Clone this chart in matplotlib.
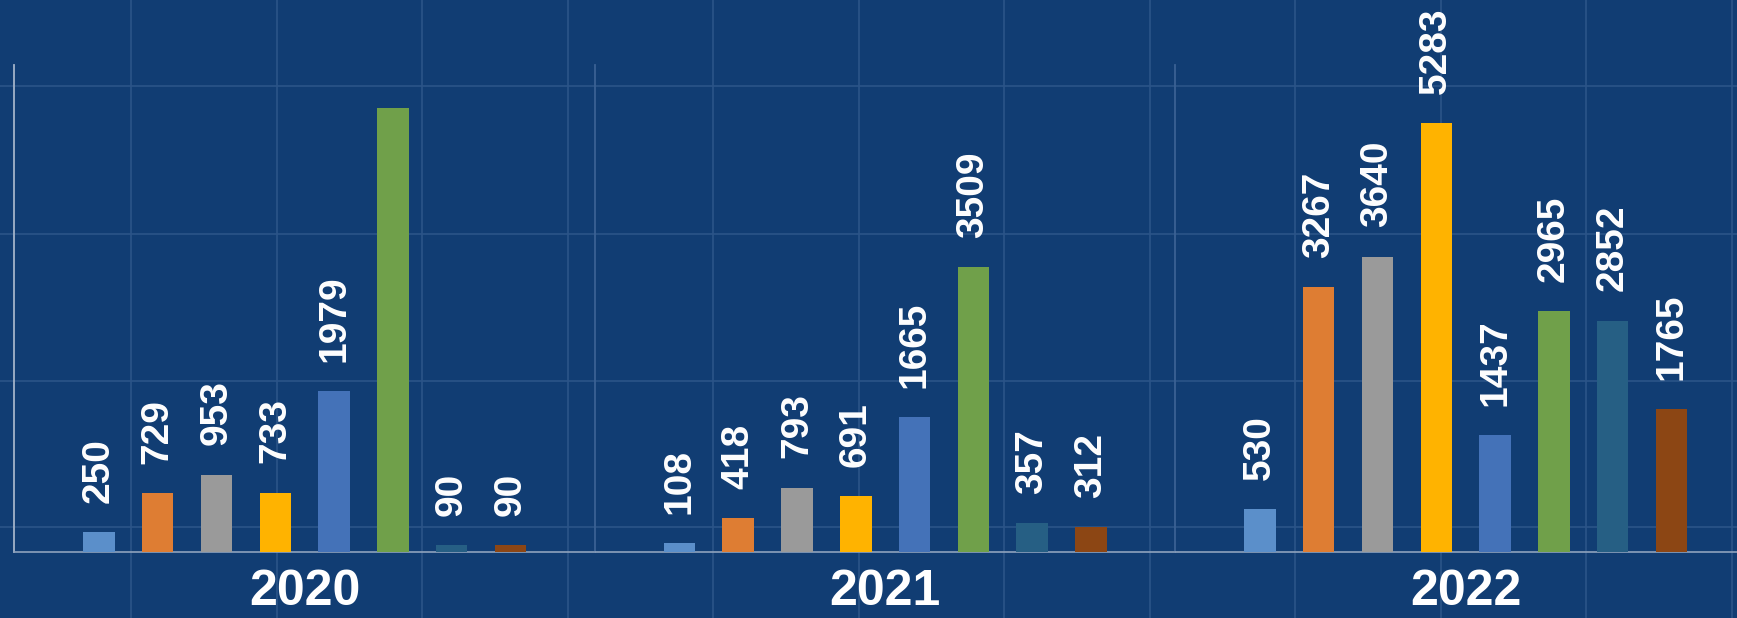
import numpy as np
import matplotlib
matplotlib.use("Agg")
import matplotlib.pyplot as plt
from matplotlib.lines import Line2D
import matplotlib.transforms as mtrans

# data
years = ["2020", "2021", "2022"]
vals_2020 = [250, 729, 953, 733, 1979, 5469, 90, 90]
vals_2021 = [108, 418, 793, 691, 1665, 3509, 357, 312]
vals_2022 = [530, 3267, 3640, 5283, 1437, 2965, 2852, 1765]
# the tallest 2020 bar carries no label in the source
show_2020 = [True, True, True, True, True, False, True, True]
show_2021 = [True] * 8
show_2022 = [True] * 8

colors = ["#5b8fca", "#de7d33", "#9a9a9a", "#ffb300", "#4472b8",
          "#70a04a", "#265f84", "#8c4614"]
bg = "#113d73"
grid_c = "#2b5488"

W, H = 1737, 618
plt.rcParams['font.family'] = ['Liberation Sans', 'DejaVu Sans']
fig = plt.figure(figsize=(W / 100, H / 100), dpi=100, facecolor=bg)

panel_w = 580.5
base_y = 552
top_y = 65

all_vals = [vals_2020, vals_2021, vals_2022]
all_show = [show_2020, show_2021, show_2022]

# background square grid of the slide
for k in range(12):
    gx = 131 + k * 145.5
    fig.add_artist(Line2D([gx / W] * 2, [0, 1], transform=fig.transFigure,
                          color=grid_c, lw=1.2, zorder=-1))
for gy in [86, 234, 381, 527]:
    fig.add_artist(Line2D([0, 1], [1 - gy / H] * 2, transform=fig.transFigure,
                          color=grid_c, lw=1.2, zorder=-1))

x = np.arange(8)
for i in range(3):
    left = 14 + i * panel_w
    ax = fig.add_axes([left / W, (H - base_y) / H, panel_w / W, (base_y - top_y) / H])
    ax.set_facecolor("none")
    bars = ax.bar(x, all_vals[i], width=0.536, color=colors, zorder=3)
    for b, v, s in zip(bars, all_vals[i], all_show[i]):
        if s:
            ax.annotate(str(v), (b.get_x() + b.get_width() / 2, v), xytext=(0, 21),
                        textcoords="offset points", ha="center", va="bottom",
                        rotation=90, color="white", fontsize=28, fontweight="bold",
                        annotation_clip=False)
    ax.set_xlim(-1.444, 8.428)
    ax.set_ylim(0, 6000)
    ax.set_yticks([])
    ax.set_xticks([])
    # year label under the group
    tr = mtrans.blended_transform_factory(ax.transData, fig.transFigure)
    ax.text(3.5, 1 - 615 / H, years[i], transform=tr, ha="center", va="bottom",
            fontsize=36, fontweight="bold", color="white")
    for sp in ["top", "right"]:
        ax.spines[sp].set_visible(False)
    ax.spines["bottom"].set_color("#8ea2bd")
    ax.spines["bottom"].set_linewidth(1.2)
    ax.spines["left"].set_color("#a3b3c9" if i == 0 else "#3a6194")
    ax.spines["left"].set_linewidth(1.3)

fig.savefig("out.png", dpi=100, facecolor=bg)
